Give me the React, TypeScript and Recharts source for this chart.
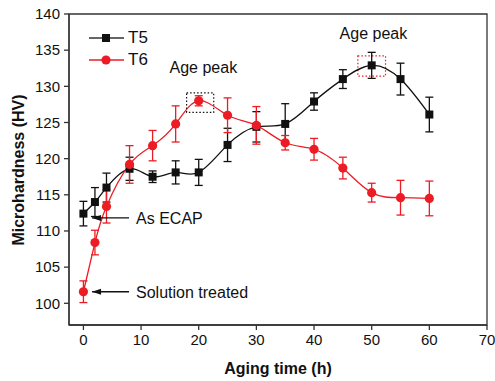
import {
  LineChart,
  Line,
  XAxis,
  YAxis,
  ErrorBar,
  ReferenceArea,
  ReferenceDot,
} from "recharts";

const agingHours = [0, 2, 4, 8, 12, 16, 20, 25, 30, 35, 40, 45, 50, 55, 60];
const t5Values = [112.4, 114.0, 116.0, 118.6, 117.5, 118.1, 118.1, 121.9, 124.4, 124.8, 127.9, 131.0, 132.9, 131.0, 126.1];
const t5Errors = [1.7, 2.0, 2.0, 1.6, 0.8, 1.6, 1.8, 2.3, 2.1, 2.8, 1.2, 1.3, 1.8, 2.2, 2.4];
const t6Values = [101.6, 108.4, 113.4, 119.2, 121.8, 124.8, 128.0, 126.0, 124.6, 122.2, 121.3, 118.7, 115.3, 114.6, 114.5];
const t6Errors = [1.5, 1.7, 2.3, 2.6, 2.1, 2.5, 0.7, 2.4, 2.6, 1.0, 1.5, 1.5, 1.3, 2.4, 2.4];

const xTicks = [0, 10, 20, 30, 40, 50, 60, 70];
const yTicks = [100, 105, 110, 115, 120, 125, 130, 135, 140];

const BLACK = "#111111";
const RED = "#ec1c24";
const FONT = "'Liberation Sans', Arial, sans-serif";

const data = agingHours.map((h, i) => ({
  h,
  t5: t5Values[i],
  t5Err: t5Errors[i],
  t6: t6Values[i],
  t6Err: t6Errors[i],
}));

const SquareDot = (props: any) => {
  const { cx, cy } = props;
  if (cx == null || cy == null) return null;
  return <rect x={cx - 4} y={cy - 4} width={8} height={8} fill={BLACK} />;
};

const CircleDot = (props: any) => {
  const { cx, cy } = props;
  if (cx == null || cy == null) return null;
  return <circle cx={cx} cy={cy} r={4.6} fill={RED} />;
};

// arrow pointing left with a label on its right
const arrowShape = (label: string) => (props: any) => {
  const { cx, cy } = props;
  return (
    <g>
      <line x1={cx} y1={cy} x2={cx + 37} y2={cy} stroke={BLACK} strokeWidth={1.3} />
      <path d={`M${cx},${cy} L${cx + 9},${cy - 3} L${cx + 9},${cy + 3} Z`} fill={BLACK} />
      <text x={cx + 44} y={cy + 6} fontSize={16} fontFamily={FONT} fill={BLACK}>
        {label}
      </text>
    </g>
  );
};

const peakLabel = (props: any) => {
  const { cx, cy } = props;
  return (
    <text x={cx} y={cy} textAnchor="middle" fontSize={16} fontFamily={FONT} fill={BLACK}>
      Age peak
    </text>
  );
};

const legendItems = [
  { name: "T5", color: "#333", dot: <rect x={13} y={7} width={8} height={8} fill={BLACK} /> },
  { name: "T6", color: RED, dot: <circle cx={17} cy={11} r={4.6} fill={RED} /> },
];

export default function App() {
  return (
    <div style={{ position: "fixed", left: 0, top: 0, width: 495, height: 381, background: "#fff" }}>
      <LineChart
        width={495}
        height={381}
        data={data}
        margin={{ top: 14, right: 8, left: 0, bottom: 26 }}
      >
        <XAxis
          dataKey="h"
          type="number"
          domain={[-2.5, 70]}
          ticks={xTicks}
          allowDataOverflow
          height={30}
          tickSize={5}
          tickMargin={4}
          axisLine={{ stroke: "#333", strokeWidth: 1.3 }}
          tickLine={{ stroke: "#333", strokeWidth: 1.3 }}
          tick={{ fontSize: 15, fill: BLACK, fontFamily: FONT }}
          label={{
            content: () => (
              <text x={278} y={374} textAnchor="middle" fontSize={16} fontWeight="bold" fontFamily={FONT} fill={BLACK}>
                Aging time (h)
              </text>
            ),
          }}
        />
        <YAxis
          type="number"
          domain={[97, 140]}
          ticks={yTicks}
          allowDataOverflow
          width={69}
          tickSize={5}
          tickMargin={4}
          axisLine={{ stroke: "#333", strokeWidth: 1.3 }}
          tickLine={{ stroke: "#333", strokeWidth: 1.3 }}
          tick={{ fontSize: 15, fill: BLACK, fontFamily: FONT }}
          label={{
            content: () => (
              <text
                x={24}
                y={170}
                transform="rotate(-90 24 170)"
                textAnchor="middle"
                fontSize={16}
                fontWeight="bold"
                fontFamily={FONT}
                fill={BLACK}
              >
                Microhardness (HV)
              </text>
            ),
          }}
        />
        {/* plot frame */}
        <ReferenceArea x1={-2.5} x2={70} y1={97} y2={140} fill="none" stroke="#333" strokeWidth={1.3} ifOverflow="visible" />
        <ReferenceArea x1={17.9} x2={22.6} y1={126.4} y2={129.1} fill="none" stroke={BLACK} strokeDasharray="1.5 2" strokeWidth={1.2} ifOverflow="visible" />
        <ReferenceArea x1={47.6} x2={52.4} y1={131.4} y2={134.2} fill="none" stroke={RED} strokeDasharray="1.5 2" strokeWidth={1.2} ifOverflow="visible" />
        <Line
          type="natural"
          dataKey="t5"
          stroke={BLACK}
          strokeWidth={1.3}
          dot={<SquareDot />}
          isAnimationActive={false}
        >
          <ErrorBar dataKey="t5Err" width={4} stroke={BLACK} strokeWidth={1.3} direction="y" />
        </Line>
        <Line
          type="natural"
          dataKey="t6"
          stroke={RED}
          strokeWidth={1.3}
          dot={<CircleDot />}
          isAnimationActive={false}
        >
          <ErrorBar dataKey="t6Err" width={4} stroke={RED} strokeWidth={1.3} direction="y" />
        </Line>
        <ReferenceDot x={1.5} y={111.8} r={0} shape={arrowShape("As ECAP")} ifOverflow="visible" />
        <ReferenceDot x={1.5} y={101.6} r={0} shape={arrowShape("Solution treated")} ifOverflow="visible" />
        <ReferenceDot x={20.8} y={131.9} r={0} shape={peakLabel} ifOverflow="visible" />
        <ReferenceDot x={50.3} y={136.5} r={0} shape={peakLabel} ifOverflow="visible" />
      </LineChart>
      <div
        style={{
          position: "absolute",
          left: 89,
          top: 27,
          fontFamily: FONT,
          fontSize: 17,
          color: BLACK,
          lineHeight: "22px",
        }}
      >
        {legendItems.map((s) => (
          <div key={s.name} style={{ display: "flex", alignItems: "center", height: 22 }}>
            <svg width={36} height={22}>
              <line x1={0} y1={11} x2={35} y2={11} stroke={s.color} strokeWidth={1.5} />
              {s.dot}
            </svg>
            <span style={{ marginLeft: 3 }}>{s.name}</span>
          </div>
        ))}
      </div>
    </div>
  );
}
